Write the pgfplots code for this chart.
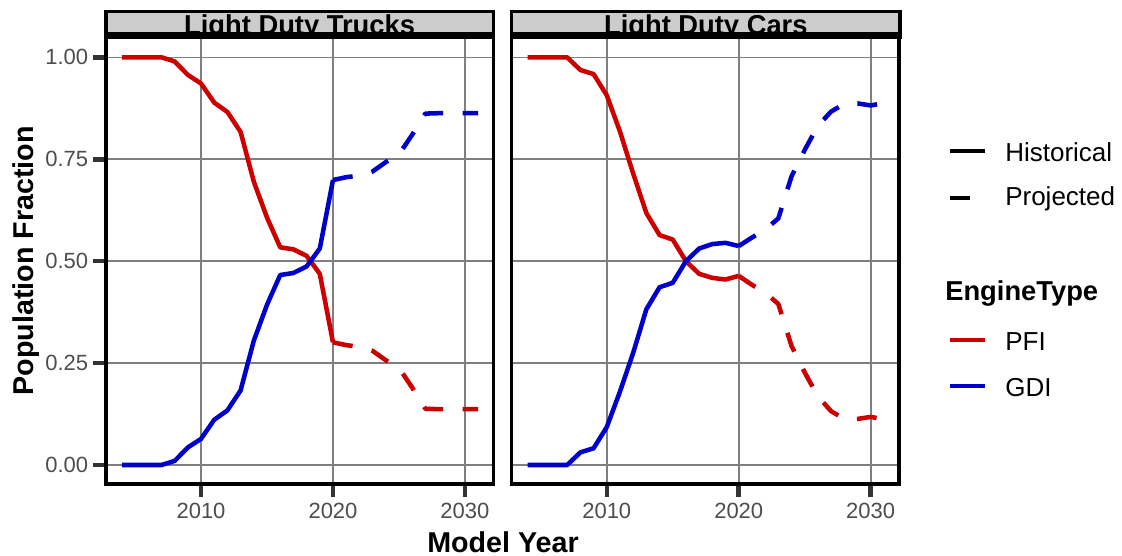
\documentclass[border=0pt]{standalone}
\usepackage{fontspec}
\setmainfont{Liberation Sans}
\usepackage{pgfplots}
\pgfplotsset{compat=1.18}
\definecolor{pfi}{RGB}{205,0,0}
\definecolor{gdi}{RGB}{0,0,205}
\definecolor{gridgray}{RGB}{127,127,127}
\definecolor{tickgray}{RGB}{51,51,51}
\definecolor{labgray}{RGB}{77,77,77}
\definecolor{stripgray}{RGB}{204,204,204}

\pgfplotsset{
  panel/.style={
    scale only axis, width=290.5pt, height=335pt,
    anchor=south west,
    xmin=2002.8, xmax=2032.15, ymin=-0.0471, ymax=1.0486,
    xtick={2010,2020,2030}, ytick={0,0.25,0.5,0.75,1},
    xticklabels={2010,2020,2030},
    yticklabels={0.00,0.25,0.50,0.75,1.00},
    grid=major, major grid style={gridgray, line width=1.2pt},
    axis line style={black, line width=2.6pt},
    tick align=outside, major tick length=9.4pt,
    tick style={tickgray, line width=3.4pt},
    xtick pos=left, ytick pos=left,
    /pgf/number format/assume math mode=true,
    tick label style={font=\fontsize{16.5}{16.5}\selectfont, text=labgray, inner sep=0pt},
    yticklabel style={xshift=-3.75pt},
    xticklabel style={yshift=-4.95pt},
  },
  hist/.style={line width=3.4pt, line join=round, no markers},
  proj/.style={line width=3.4pt, line join=round, no markers, dash pattern=on 15pt off 14.6pt},
}

\begin{document}
\begin{tikzpicture}
\begin{scope}[x=0.75pt,y=-0.75pt]
\useasboundingbox (0,0) rectangle (1122,556);
\end{scope}

% Light Duty Trucks
\begin{axis}[panel, at={(79.5pt,-363.15pt)}]
\addplot[pfi, hist] coordinates {
(2004,1.0) (2005,1.0) (2006,1.0) (2007,1.0) (2008,0.99) (2009,0.957) (2010,0.936)
(2011,0.889) (2012,0.866) (2013,0.817) (2014,0.695) (2015,0.607) (2016,0.534)
(2017,0.529) (2018,0.513) (2019,0.469) (2020,0.301)};
\addplot[gdi, hist] coordinates {
(2004,0) (2005,0) (2006,0) (2007,0) (2008,0.01) (2009,0.043) (2010,0.064)
(2011,0.111) (2012,0.134) (2013,0.183) (2014,0.305) (2015,0.393) (2016,0.466)
(2017,0.471) (2018,0.487) (2019,0.531) (2020,0.699)};
\addplot[pfi, proj] coordinates {
(2020,0.301) (2021,0.294) (2022,0.29) (2023,0.28) (2024,0.257) (2025,0.238)
(2026,0.19) (2027,0.138) (2028,0.137) (2029,0.137) (2030,0.137) (2031,0.137)};
\addplot[gdi, proj] coordinates {
(2020,0.699) (2021,0.706) (2022,0.71) (2023,0.72) (2024,0.743) (2025,0.762)
(2026,0.81) (2027,0.862) (2028,0.863) (2029,0.863) (2030,0.863) (2031,0.863)};
\end{axis}

% Light Duty Cars
\begin{axis}[panel, at={(383.81pt,-363.15pt)}, yticklabels={}, ytick style={draw=none}]
\addplot[pfi, hist] coordinates {
(2004,1.0) (2005,1.0) (2006,1.0) (2007,1.0) (2008,0.969) (2009,0.959) (2010,0.907)
(2011,0.818) (2012,0.715) (2013,0.618) (2014,0.564) (2015,0.553) (2016,0.5)
(2017,0.469) (2018,0.459) (2019,0.455) (2020,0.464)};
\addplot[gdi, hist] coordinates {
(2004,0) (2005,0) (2006,0) (2007,0) (2008,0.031) (2009,0.041) (2010,0.093)
(2011,0.18) (2012,0.275) (2013,0.382) (2014,0.436) (2015,0.447) (2016,0.5)
(2017,0.531) (2018,0.542) (2019,0.545) (2020,0.537)};
\addplot[pfi, proj] coordinates {
(2020,0.464) (2021,0.442) (2022,0.423) (2023,0.395) (2024,0.292) (2025,0.227)
(2026,0.168) (2027,0.132) (2028,0.113) (2029,0.113) (2030,0.118) (2031,0.112)};
\addplot[gdi, proj] coordinates {
(2020,0.537) (2021,0.558) (2022,0.577) (2023,0.605) (2024,0.708) (2025,0.773)
(2026,0.832) (2027,0.867) (2028,0.886) (2029,0.887) (2030,0.882) (2031,0.888)};
\end{axis}

\begin{scope}[x=0.75pt,y=-0.75pt]
% strips
\fill[stripgray] (106,11.75) rectangle (493.3,33.5);
\begin{scope}
\clip (106,11.75) rectangle (493.3,33.5);
\node[font=\fontsize{20.5}{20.5}\selectfont\bfseries, anchor=base, inner sep=0pt] at (299.6,34.6) {Light Duty Trucks};
\end{scope}
\draw[black, line width=2.6pt] (106,11.75) rectangle (493.3,33.5);
\fill[black] (104.25,31.7) rectangle (495.05,39.3);

\fill[stripgray] (511.75,11.75) rectangle (899.9,33.5);
\begin{scope}
\clip (511.75,11.75) rectangle (899.9,33.5);
\node[font=\fontsize{20.5}{20.5}\selectfont\bfseries, anchor=base, inner sep=0pt] at (705.8,34.6) {Light Duty Cars};
\end{scope}
\draw[black, line width=2.6pt] (511.75,11.75) rectangle (899.9,33.5);
\fill[black] (510,31.7) rectangle (901.65,39.3);

% axis titles
\node[font=\fontsize{21.5}{21.5}\selectfont\bfseries, rotate=90, anchor=base, inner sep=0pt] at (33.3,261) {Population Fraction};
\node[font=\fontsize{21.5}{21.5}\selectfont\bfseries, anchor=base, inner sep=0pt] at (503,552) {Model Year};

% legend
\draw[black, line width=3pt] (950,151) -- (985,151);
\node[font=\fontsize{19.5}{19.5}\selectfont, anchor=base west, inner sep=0pt] at (1005,161.5) {Historical};
\draw[black, line width=3pt] (950,198) -- (970,198);
\node[font=\fontsize{19.5}{19.5}\selectfont, anchor=base west, inner sep=0pt] at (1005,205.5) {Projected};
\node[font=\fontsize{20.5}{20.5}\selectfont\bfseries, anchor=base west, inner sep=0pt] at (945,300.5) {EngineType};
\draw[pfi, line width=3pt] (950,339.5) -- (985,339.5);
\node[font=\fontsize{19.5}{19.5}\selectfont, anchor=base west, inner sep=0pt] at (1005,350) {PFI};
\draw[gdi, line width=3pt] (950,386) -- (985,386);
\node[font=\fontsize{19.5}{19.5}\selectfont, anchor=base west, inner sep=0pt] at (1005,396.5) {GDI};
\end{scope}
\end{tikzpicture}
\end{document}
